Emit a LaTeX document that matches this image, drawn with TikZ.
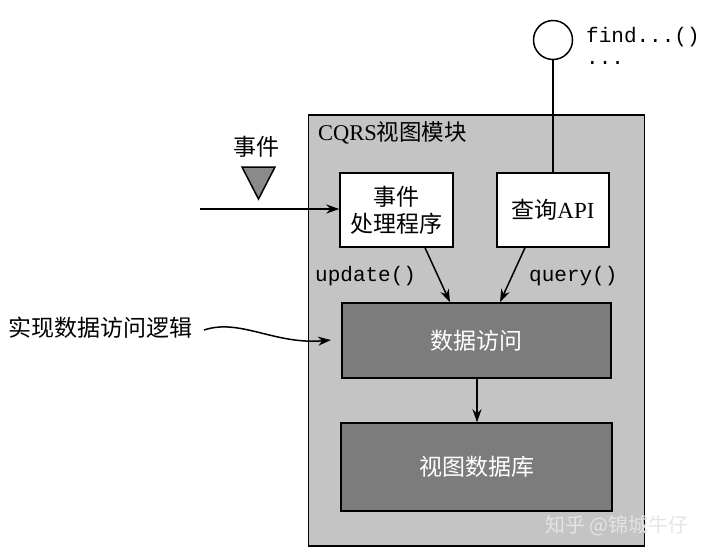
\documentclass[tikz,border=0pt]{standalone}
\usepackage{fontspec}
\setmainfont{Liberation Serif}
\setmonofont{Liberation Mono}
\newfontfamily\cjk{Noto Sans CJK SC}
\usetikzlibrary{arrows.meta}
\definecolor{modgray}{HTML}{C4C4C4}
\definecolor{darkbox}{HTML}{7C7C7C}
\definecolor{trigray}{HTML}{8A8A8A}
\definecolor{wmark}{HTML}{E4E4E4}
\tikzset{
  conn/.style={line width=1.5pt,-{Stealth[length=13pt,width=9pt]}},
  whitebox/.style={draw=black,line width=1.5pt,fill=white,inner sep=0pt},
  darkrect/.style={draw=black,line width=1.5pt,fill=darkbox,inner sep=0pt},
  lbl/.style={font=\fontsize{23}{27}\selectfont\cjk},
  mono/.style={font=\fontsize{21}{24}\selectfont\ttfamily},
}
\begin{document}
\begin{tikzpicture}[x=1pt,y=-1pt]
\useasboundingbox (0,0) rectangle (720,558);
% module
\node[draw=black,line width=1.5pt,fill=modgray,minimum width=336pt,minimum height=431pt,inner sep=0pt] (mod) at (476.5,330.5) {};
\node[anchor=west,inner sep=0pt] (title) at (318,133) {\fontsize{22.5}{26}\selectfont CQRS{\cjk 视图模块}};
% boxes
\node[whitebox,minimum width=113pt,minimum height=74pt,align=center,font=\fontsize{23}{27}\selectfont\cjk] (eh) at (396.5,210) {事件\\处理程序};
\node[whitebox,minimum width=112pt,minimum height=74pt] (qa) at (553,210) {\fontsize{23}{27}\selectfont{\cjk 查询}API};
\node[darkrect,minimum width=269pt,minimum height=75pt,text=white,lbl] (da) at (476.5,340.5) {数据访问};
\node[darkrect,minimum width=271pt,minimum height=88pt,text=white,lbl] (db) at (476.5,467) {视图数据库};
% connectors
\draw[conn] (eh.south -| 425,0) -- (da.north -| 450,0);
\draw[conn] (qa.south -| 525,0) -- (da.north -| 500,0);
\draw[conn] (da.south -| 477,0) -- (db.north -| 477,0);
\node[mono,anchor=base west,inner sep=0pt] (upd) at (315,281) {update()};
\node[mono,anchor=base west,inner sep=0pt] (qry) at (529,281) {query()};
% event input
\coordinate (evin) at (200,209);
\draw[conn] (evin) -- (eh.west |- evin);
\coordinate (tri) at (258.5,183);
\draw[line width=1.5pt,fill=trigray,line join=miter] (242,167) -- (275,167) -- (258.5,199) -- cycle;
\node[lbl] (evl) at (256,147) {事件};
% query interface
\node[draw=black,line width=1.5pt,fill=white,circle,minimum size=39pt,inner sep=0pt] (port) at (553,40) {};
\draw[line width=1.5pt] (port.south) -- (qa.north -| port.south);
\node[mono,anchor=base west,inner sep=0pt] (find) at (586,42) {find...()};
\node[mono,anchor=base west,inner sep=0pt] (dots) at (586,64) {...};
% annotation
\node[lbl,anchor=west,inner sep=0pt] (impl) at (8,328) {实现数据访问逻辑};
\coordinate (cstart) at (204,330);
\draw[conn] (cstart) .. controls (240,318) and (275,345) .. (331,340);
% watermark
\node[font=\fontsize{20}{24}\selectfont\cjk,text=wmark,anchor=west,inner sep=0pt] (wm) at (545,526) {知乎 @锦城牛仔};
\end{tikzpicture}
\end{document}
